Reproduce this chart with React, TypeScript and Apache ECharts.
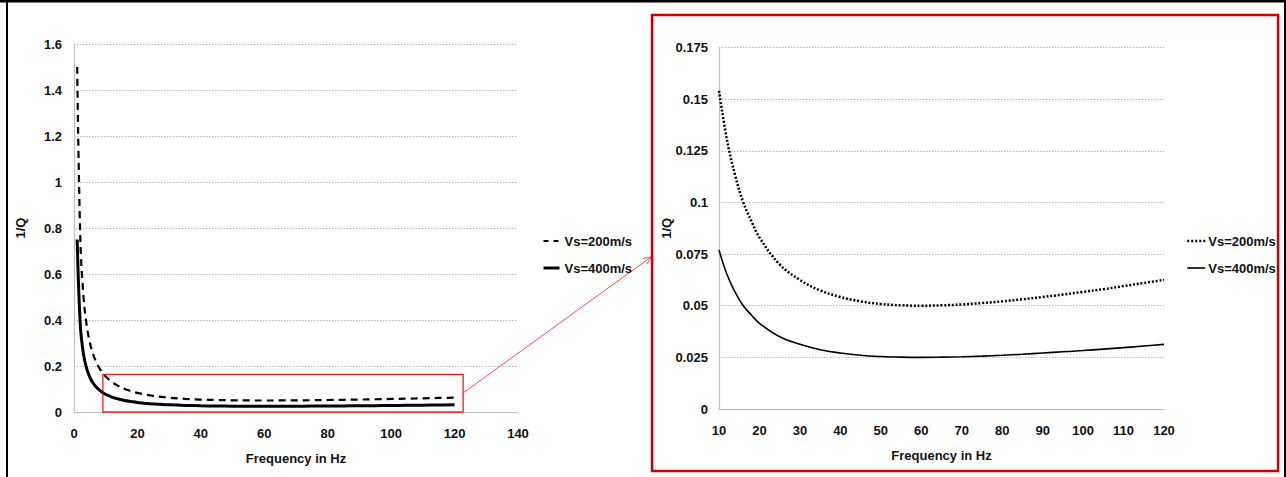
import React, { useEffect, useRef } from "react";
import * as echarts from "echarts";

// Frequency (Hz)
const freq = [1, 2, 3, 4, 5, 6, 7, 8, 9, 10, 12, 14, 16, 18, 20, 25, 30, 35, 40, 45, 50, 55, 60, 65, 70, 75, 80, 85, 90, 95, 100, 105, 110, 115, 120];
// 1/Q for Vs = 200 m/s
const vs200 = [1.5, 0.751, 0.501, 0.377, 0.302, 0.2525, 0.217, 0.191, 0.17, 0.154, 0.13, 0.113, 0.1, 0.091, 0.083, 0.07, 0.0625, 0.0574, 0.0542, 0.0521, 0.0508, 0.0502, 0.05, 0.0502, 0.0506, 0.0513, 0.0521, 0.0531, 0.0542, 0.0554, 0.0567, 0.058, 0.0595, 0.061, 0.0625];
// 1/Q for Vs = 400 m/s
const vs400 = [0.75, 0.3755, 0.2505, 0.1885, 0.151, 0.126, 0.1085, 0.0955, 0.085, 0.077, 0.065, 0.0565, 0.05, 0.0455, 0.0415, 0.035, 0.0313, 0.0287, 0.0271, 0.026, 0.0254, 0.0251, 0.025, 0.0251, 0.0253, 0.0256, 0.026, 0.0265, 0.0271, 0.0277, 0.0283, 0.029, 0.0297, 0.0305, 0.0313];

const seriesNames = ["Vs=200m/s", "Vs=400m/s"];
const xAxisTitle = "Frequency in Hz";
const yAxisTitle = "1/Q";
// zoomed window (left chart annotation box) in data units
const zoomBox = { x0: 9.1, x1: 122.7, y0: 0, y1: 0.164 };
const zoomFreqMin = 10;

const FONT = "'Liberation Sans', Arial, Helvetica, sans-serif";

export default function App() {
  const ref = useRef<HTMLDivElement>(null);
  useEffect(() => {
    document.body.style.margin = "0";
    const chart = echarts.init(ref.current!, null, { renderer: "svg" });
    const full200 = freq.map((f, i) => [f, vs200[i]]);
    const full400 = freq.map((f, i) => [f, vs400[i]]);
    const zoom200 = full200.filter((p) => p[0] >= zoomFreqMin);
    const zoom400 = full400.filter((p) => p[0] >= zoomFreqMin);

    const txt = { fontFamily: FONT, fontWeight: "bold" as const, fontSize: 13, color: "#111" };
    const gridLine = { show: true, lineStyle: { color: "#b8b8b8", width: 1, type: [1.5, 1.5] as any } };
    const axisLine = { show: true, lineStyle: { color: "#bfbfbf", width: 1.2 } };
    const hiddenSymbol = { color: "rgba(0,0,0,0)", borderWidth: 0, opacity: 0 };

    // connector arrow
    const sx = 463, sy = 393, tx = 651, ty = 257;
    const dx = sx - tx, dy = sy - ty;
    const len = Math.hypot(dx, dy);
    const ux = dx / len, uy = dy / len;
    const rot = (a: number) => [tx + 8 * (ux * Math.cos(a) - uy * Math.sin(a)), ty + 8 * (ux * Math.sin(a) + uy * Math.cos(a))];

    chart.setOption({
      animation: false,
      backgroundColor: "#fff",
      grid: [
        { left: 74, top: 44, width: 444, height: 368 },
        { left: 719, top: 47.5, width: 445, height: 361.5 },
      ],
      xAxis: [
        {
          gridIndex: 0, type: "value", min: 0, max: 140, interval: 20,
          name: xAxisTitle, nameLocation: "middle", nameGap: 40, nameTextStyle: txt, nameMoveOverlap: false,
          axisLine, axisTick: { show: false }, splitLine: { show: false },
          axisLabel: { ...txt, margin: 15 },
        },
        {
          gridIndex: 1, type: "value", min: 10, max: 120, interval: 10,
          name: xAxisTitle, nameLocation: "middle", nameGap: 39.5, nameTextStyle: txt, nameMoveOverlap: false,
          axisLine, axisTick: { show: false }, splitLine: { show: false },
          axisLabel: { ...txt, margin: 14.5 },
        },
      ],
      yAxis: [
        {
          gridIndex: 0, type: "value", min: 0, max: 1.6, interval: 0.2,
          name: yAxisTitle, nameLocation: "middle", nameGap: 47.5, nameRotate: 90, nameTextStyle: txt, nameMoveOverlap: false,
          axisLine, axisTick: { show: false }, splitLine: gridLine,
          axisLabel: { ...txt, margin: 12 },
        },
        {
          gridIndex: 1, type: "value", min: 0, max: 0.175, interval: 0.025,
          name: yAxisTitle, nameLocation: "middle", nameGap: 46.5, nameRotate: 90, nameTextStyle: txt, nameMoveOverlap: false,
          axisLine, axisTick: { show: false }, splitLine: gridLine,
          axisLabel: { ...txt, margin: 11 },
        },
      ],
      legend: [
        {
          orient: "vertical", left: 542, top: 233, padding: 0, itemWidth: 16, itemHeight: 10, itemGap: 11,
          selectedMode: false, textStyle: { ...txt, lineHeight: 16, padding: [0, 0, 0, 0] },
          data: [
            { name: seriesNames[0], itemStyle: hiddenSymbol, lineStyle: { type: [5, 5], width: 2, color: "#000" } },
            { name: seriesNames[1], itemStyle: hiddenSymbol, lineStyle: { type: "solid", width: 3, color: "#000" } },
          ],
        },
        {
          orient: "vertical", left: 1186, top: 233, padding: 0, itemWidth: 18, itemHeight: 10, itemGap: 11,
          selectedMode: false, textStyle: { ...txt, lineHeight: 16, padding: [0, 0, 0, -2] },
          formatter: (n: string) => n.split("|")[0],
          data: [
            { name: seriesNames[0] + "|z", itemStyle: hiddenSymbol, lineStyle: { type: [2, 2], width: 2.5, color: "#000" } },
            { name: seriesNames[1] + "|z", itemStyle: hiddenSymbol, lineStyle: { type: "solid", width: 1.6, color: "#000" } },
          ],
        },
      ],
      series: [
        {
          name: seriesNames[0], type: "line", xAxisIndex: 0, yAxisIndex: 0, data: full200,
          showSymbol: false, symbol: "none", smooth: 0.4,
          lineStyle: { color: "#000", width: 2.2, type: [7, 5] },
          itemStyle: { color: "#000" },
          markArea: {
            silent: true,
            itemStyle: { color: "rgba(0,0,0,0)", borderColor: "#ff1a1a", borderWidth: 1.3 },
            data: [[{ coord: [zoomBox.x0, zoomBox.y0] }, { coord: [zoomBox.x1, zoomBox.y1] }]],
          },
        },
        {
          name: seriesNames[1], type: "line", xAxisIndex: 0, yAxisIndex: 0, data: full400,
          showSymbol: false, symbol: "none", smooth: 0.4,
          lineStyle: { color: "#000", width: 3, type: "solid" },
          itemStyle: { color: "#000" },
        },
        {
          name: seriesNames[0] + "|z", type: "line", xAxisIndex: 1, yAxisIndex: 1, data: zoom200,
          showSymbol: false, symbol: "none", smooth: 0.4,
          lineStyle: { color: "#000", width: 2.5, type: [2, 1.8] },
          itemStyle: { color: "#000" },
        },
        {
          name: seriesNames[1] + "|z", type: "line", xAxisIndex: 1, yAxisIndex: 1, data: zoom400,
          showSymbol: false, symbol: "none", smooth: 0.4,
          lineStyle: { color: "#000", width: 1.6, type: "solid" },
          itemStyle: { color: "#000" },
        },
      ],
      graphic: [
        { type: "rect", silent: true, shape: { x: 0, y: 0, width: 1286, height: 2.5 }, style: { fill: "#000" } },
        { type: "rect", silent: true, shape: { x: 6, y: 0, width: 2, height: 477 }, style: { fill: "#000" } },
        { type: "rect", silent: true, shape: { x: 1284, y: 0, width: 2, height: 477 }, style: { fill: "#000" } },
        { type: "rect", silent: true, shape: { x: 652, y: 15, width: 626, height: 456 }, style: { fill: "none", stroke: "#cc0000", lineWidth: 2.5 } },
        { type: "line", silent: true, shape: { x1: sx, y1: sy, x2: tx, y2: ty }, style: { stroke: "#ff4d4d", lineWidth: 1 } },
        { type: "polyline", silent: true, shape: { points: [rot(0.45), [tx, ty], rot(-0.45)] }, style: { stroke: "#ff4d4d", lineWidth: 1, fill: "none" } },
      ],
    });
    return () => chart.dispose();
  }, []);
  return <div ref={ref} style={{ position: "absolute", left: 0, top: 0, width: 1286, height: 477 }} />;
}
